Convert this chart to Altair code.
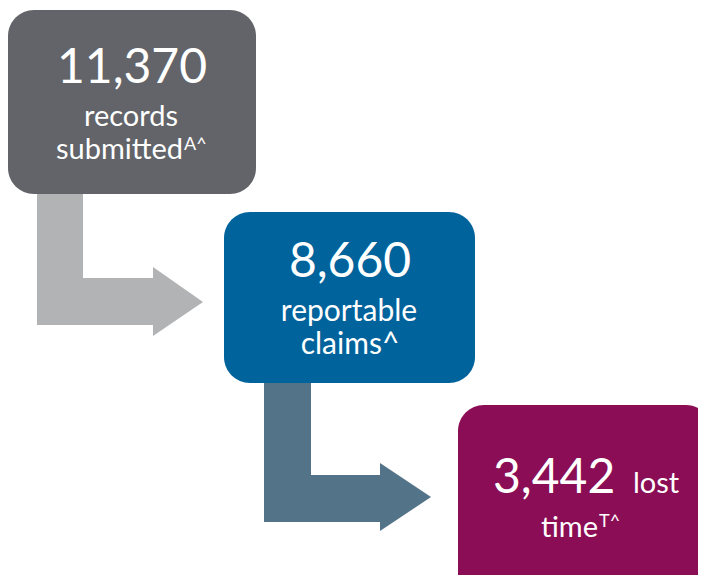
import altair as alt
import pandas as pd

# ---- content ----
numbers = ["11,370", "8,660", "3,442"]
box_colors = ["#626469", "#00639C", "#8A0D55"]
arrow_colors = ["#B2B3B4", "#527388"]

# ---- layout (picture pixel coordinates) ----
boxes = pd.DataFrame({
    "x": [8, 224, 458], "x2": [256, 475, 712],
    "y": [10, 212, 405], "y2": [194, 383, 610],
    "color": box_colors,
})

arrow_bars = pd.DataFrame({
    "x": [37, 37, 264, 264], "x2": [83, 154, 311, 381],
    "y": [190, 278, 380, 475], "y2": [325, 325, 522, 522],
    "color": [arrow_colors[0], arrow_colors[0], arrow_colors[1], arrow_colors[1]],
})

arrow_heads = pd.DataFrame({
    "id": ["a1", "a1", "a2", "a2"],
    "x": [153, 203, 380, 431],
    "y": [267, 302, 463, 497],
    "y2": [336, 302, 531, 497],
    "color": [arrow_colors[0], arrow_colors[0], arrow_colors[1], arrow_colors[1]],
})

texts = pd.DataFrame([
    {"t": numbers[0], "x": 132, "y": 83, "size": 48, "align": "center"},
    {"t": "records", "x": 131, "y": 126, "size": 29, "align": "center"},
    {"t": "submitted", "x": 183, "y": 159, "size": 29, "align": "right"},
    {"t": "A^", "x": 184, "y": 150, "size": 18, "align": "left"},
    {"t": numbers[1], "x": 350, "y": 277, "size": 48, "align": "center"},
    {"t": "reportable", "x": 349, "y": 321, "size": 30, "align": "center"},
    {"t": "claims^", "x": 350, "y": 354, "size": 30, "align": "center"},
    {"t": numbers[2], "x": 493, "y": 493, "size": 48, "align": "left"},
    {"t": "lost", "x": 633, "y": 493, "size": 29, "align": "left"},
    {"t": "time", "x": 598, "y": 537, "size": 29, "align": "right"},
    {"t": "T^", "x": 599, "y": 527, "size": 18, "align": "left"},
])

xs = alt.Scale(domain=[8, 698])
ys = alt.Scale(domain=[8, 575], reverse=True)

box_layer = alt.Chart(boxes).mark_rect(cornerRadius=26, clip=True).encode(
    x=alt.X("x:Q", scale=xs, axis=None), x2="x2:Q",
    y=alt.Y("y:Q", scale=ys, axis=None), y2="y2:Q",
    color=alt.Color("color:N", scale=None),
)

bar_layer = alt.Chart(arrow_bars).mark_rect(clip=True).encode(
    x=alt.X("x:Q", scale=xs, axis=None), x2="x2:Q",
    y=alt.Y("y:Q", scale=ys, axis=None), y2="y2:Q",
    color=alt.Color("color:N", scale=None),
)

head_layer = alt.Chart(arrow_heads).mark_area(clip=True, orient="vertical").encode(
    x=alt.X("x:Q", scale=xs, axis=None),
    y=alt.Y("y:Q", scale=ys, axis=None), y2="y2:Q",
    color=alt.Color("color:N", scale=None),
    detail="id:N",
)

text_layers = []
for align in ["center", "left", "right"]:
    sub = texts[texts["align"] == align]
    text_layers.append(
        alt.Chart(sub).mark_text(
            align=align, baseline="alphabetic", font="Lato", color="white"
        ).encode(
            x=alt.X("x:Q", scale=xs, axis=None),
            y=alt.Y("y:Q", scale=ys, axis=None),
            text="t:N",
            size=alt.Size("size:Q", scale=None, legend=None),
        )
    )

chart = alt.layer(bar_layer, head_layer, box_layer, *text_layers).properties(
    width=690, height=567, padding=0, autosize=alt.AutoSizeParams(type="none")
).configure_view(stroke=None)

chart.save("out.html", embed_options={"renderer": "svg", "actions": False})
